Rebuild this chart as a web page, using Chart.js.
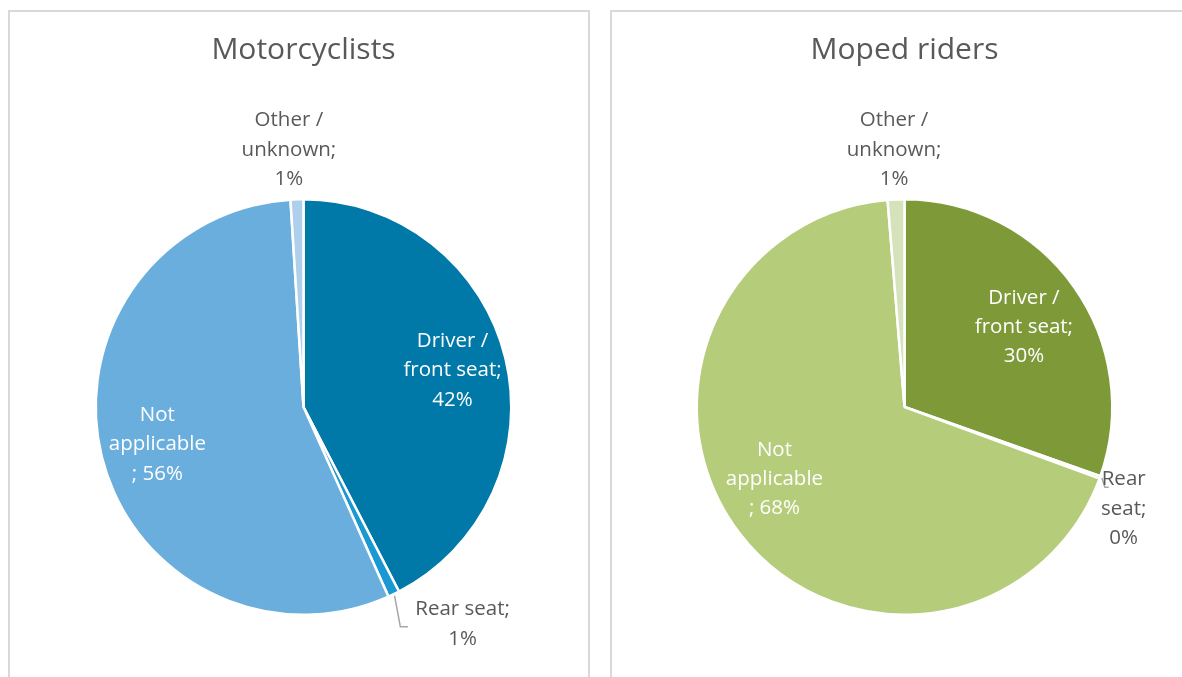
<!DOCTYPE html>
<html>
<head>
<meta charset="utf-8">
<script src="https://cdn.jsdelivr.net/npm/chart.js@4/dist/chart.umd.min.js"></script>
<style>
  html, body { margin: 0; padding: 0; background: #ffffff; overflow: hidden; width: 1182px; height: 677px; }
  .panel { position: absolute; border: 2px solid #d9d9d9; box-sizing: border-box; background: #fff; }
  #p1 { left: 8px; top: 10px; width: 582px; height: 720px; }
  #p2 { left: 610px; top: 10px; width: 620px; height: 720px; }
  .panel canvas { position: absolute; left: 0; top: 0; }
</style>
</head>
<body>
<div class="panel" id="p1"><canvas id="c1"></canvas></div>
<div class="panel" id="p2"><canvas id="c2"></canvas></div>
<script>
// ---- data ----
const categories = ["Driver / front seat", "Rear seat", "Not applicable", "Other / unknown"];
const motorcyclistValues = [42.4, 0.9, 55.7, 1.0];
const mopedValues = [30.4, 0.2, 68.1, 1.3];
const chartTitles = ["Motorcyclists", "Moped riders"];
const motorcyclistColors = ["#0078a8", "#1a98d2", "#6aaede", "#aed0ec"];
const mopedColors = ["#7e9a38", "#9bb55a", "#b5cc7a", "#d6e2bc"];
// label line templates ({p} = percentage)
const motoLabelLines = [["Driver /", "front seat;", "{p}"], ["Rear seat;", "{p}"], ["Not", "applicable", "; {p}"], ["Other /", "unknown;", "{p}"]];
const mopedLabelLines = [["Driver /", "front seat;", "{p}"], ["Rear", "seat;", "{p}"], ["Not", "applicable", "; {p}"], ["Other /", "unknown;", "{p}"]];

// ---- label placement (relative to pie centre, in radius units) ----
const motoLabelPos = [
  {dx: 0.714, dy: -0.175, color: "#ffffff"},
  {dx: 0.762, dy: 1.040, color: "#595959", leader: [[0.464, 1.053], [0.500, 1.053]]},
  {dx: -0.700, dy: 0.180, color: "#ffffff"},
  {dx: -0.070, dy: -1.232, color: "#595959"}
];
const mopedLabelPos = [
  {dx: 0.572, dy: -0.382, color: "#ffffff"},
  {dx: 1.050, dy: 0.488, color: "#595959", leader: [[0.960, 0.385], [0.978, 0.385]]},
  {dx: -0.623, dy: 0.346, color: "#ffffff"},
  {dx: -0.050, dy: -1.232, color: "#595959"}
];

const FONT = "'Open Sans', 'Noto Sans', sans-serif";

const pieLabels = {
  id: "pieLabels",
  afterDatasetsDraw(chart, args, opts) {
    const ctx = chart.ctx;
    const meta = chart.getDatasetMeta(0);
    const arcs = meta.data;
    const values = chart.data.datasets[0].data;
    const total = values.reduce((a, b) => a + b, 0);
    ctx.save();
    ctx.font = "20.5px " + FONT;
    ctx.textAlign = "center";
    ctx.textBaseline = "middle";
    const lh = 29.3;
    arcs.forEach((arc, i) => {
      const cx = arc.x, cy = arc.y, r = arc.outerRadius + 1;
      const spec = opts.pos[i];
      const pct = Math.round(values[i] / total * 100) + "%";
      const lines = opts.lines[i].map(s => s.replace("{p}", pct));
      const bx = cx + spec.dx * r, by = cy + spec.dy * r;
      if (spec.leader) {
        const mid = (arc.startAngle + arc.endAngle) / 2;
        ctx.beginPath();
        ctx.strokeStyle = "#a6a6a6";
        ctx.lineWidth = 1.5;
        ctx.moveTo(cx + Math.cos(mid) * (r + 1), cy + Math.sin(mid) * (r + 1));
        spec.leader.forEach(p => ctx.lineTo(cx + p[0] * r, cy + p[1] * r));
        ctx.stroke();
      }
      ctx.fillStyle = spec.color;
      const n = lines.length;
      lines.forEach((t, k) => {
        ctx.fillText(t, bx, by + (k - (n - 1) / 2) * lh);
      });
    });
    ctx.restore();
  }
};

function makePie(id, w, h, values, colors, title, lines, pos, padLeft) {
  const cv = document.getElementById(id);
  cv.width = w; cv.height = h;
  cv.style.width = w + "px"; cv.style.height = h + "px";
  return new Chart(cv, {
    type: "pie",
    data: {
      labels: categories,
      datasets: [{
        data: values,
        backgroundColor: colors,
        borderColor: "#ffffff",
        borderWidth: 2.5,
        hoverOffset: 0
      }]
    },
    options: {
      responsive: false,
      animation: false,
      rotation: 0,
      layout: { padding: { left: padLeft, right: 0, top: 0, bottom: 61 } },
      plugins: {
        legend: { display: false },
        tooltip: { enabled: false },
        title: {
          display: true,
          text: title,
          color: "#595959",
          font: { family: FONT, size: 30, weight: "normal", lineHeight: 1.2 },
          padding: { top: 20, bottom: 130 }
        },
        pieLabels: { lines: lines, pos: pos }
      }
    },
    plugins: [pieLabels]
  });
}

makePie("c1", 578, 665, motorcyclistValues, motorcyclistColors, chartTitles[0], motoLabelLines, motoLabelPos, 9);
makePie("c2", 570, 665, mopedValues, mopedColors, chartTitles[1], mopedLabelLines, mopedLabelPos, 15);
</script>
</body>
</html>
